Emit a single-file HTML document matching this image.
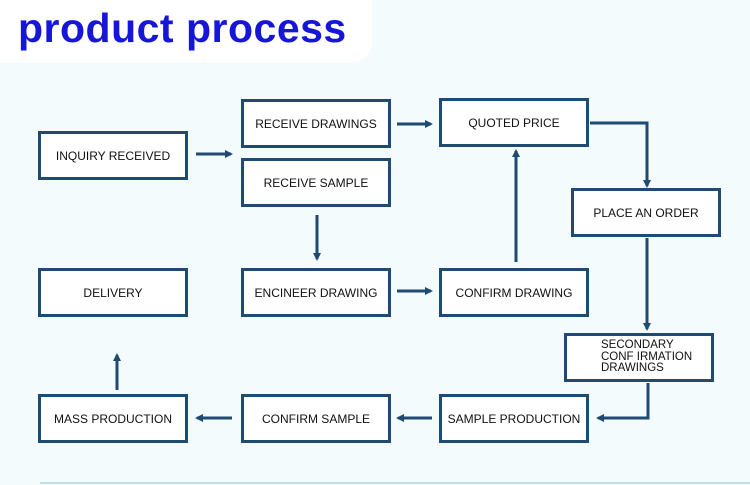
<!DOCTYPE html>
<html><head><style>
body{margin:0;width:750px;height:485px;overflow:hidden;background:#f3fbfd;position:relative;font-family:"Liberation Sans",sans-serif}
.t{position:absolute;left:0;top:0;width:372px;height:62px;background:#fff;border-bottom-right-radius:20px}
.t span{position:absolute;left:18px;top:5px;font-size:41px;font-weight:bold;color:#1616d8;letter-spacing:0.5px}
.b{position:absolute;box-sizing:border-box;border:3px solid #1f4a72;background:#fff;display:flex;align-items:center;justify-content:center;font-size:12px;color:#111;width:150px;height:49px}
</style></head><body>
<div class="t"><span>product process</span></div>
<div class="b" style="left:38px;top:131px">INQUIRY RECEIVED</div>
<div class="b" style="left:241px;top:99px">RECEIVE DRAWINGS</div>
<div class="b" style="left:241px;top:158px">RECEIVE SAMPLE</div>
<div class="b" style="left:439px;top:98px">QUOTED PRICE</div>
<div class="b" style="left:571px;top:188px">PLACE AN ORDER</div>
<div class="b" style="left:38px;top:268px">DELIVERY</div>
<div class="b" style="left:241px;top:268px">ENCINEER DRAWING</div>
<div class="b" style="left:439px;top:268px">CONFIRM DRAWING</div>
<div class="b" style="left:564px;top:333px;justify-content:flex-start;padding-left:34px;line-height:11.5px;font-size:11.5px">SECONDARY<br>CONF IRMATION<br>DRAWINGS</div>
<div class="b" style="left:38px;top:394px">MASS PRODUCTION</div>
<div class="b" style="left:241px;top:394px">CONFIRM SAMPLE</div>
<div class="b" style="left:439px;top:394px">SAMPLE PRODUCTION</div>
<svg width="750" height="485" style="position:absolute;left:0;top:0">
<defs><marker id="a" markerWidth="8" markerHeight="8" refX="6" refY="4" orient="auto" markerUnits="userSpaceOnUse"><path d="M0,0 L8,4 L0,8 Z" fill="#1f4a72"/></marker></defs>
<g stroke="#1f4a72" stroke-width="3" fill="none" marker-end="url(#a)">
<path d="M196 154 H231"/>
<path d="M397 124 H431"/>
<path d="M590 123 H647 V186"/>
<path d="M647 238 V329"/>
<path d="M648 383 V418 H598"/>
<path d="M432 418 H398"/>
<path d="M232 418 H197"/>
<path d="M117 390 V355"/>
<path d="M317 215 V259"/>
<path d="M397 291 H431"/>
<path d="M516 262 V151"/>
</g>
<line x1="40" y1="483" x2="750" y2="483" stroke="#bfe0ea" stroke-width="2"/>
</svg>
</body></html>
